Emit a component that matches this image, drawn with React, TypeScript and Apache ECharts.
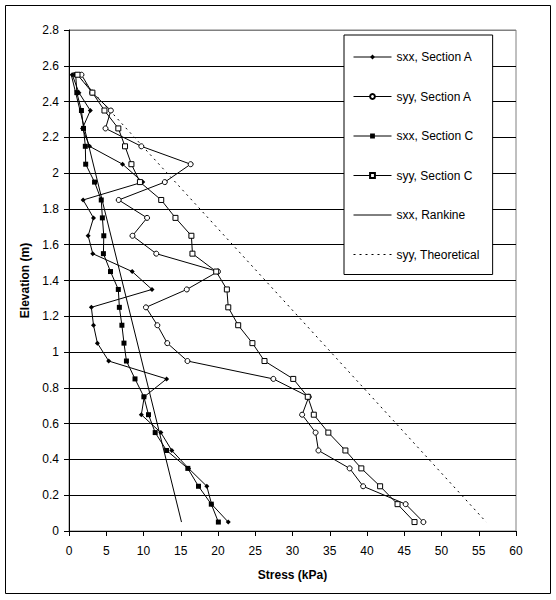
import React, { useEffect, useRef } from "react";
import * as echarts from "echarts";

const elevation = [2.55, 2.45, 2.35, 2.25, 2.15, 2.05, 1.95, 1.85, 1.75, 1.65, 1.55, 1.45, 1.35, 1.25, 1.15, 1.05, 0.95, 0.85, 0.75, 0.65, 0.55, 0.45, 0.35, 0.25, 0.15, 0.05];

const sxxSectionA = [0.43, 1.33, 2.86, 1.81, 2.76, 7.19, 9.9, 1.9, 3.29, 2.57, 3.19, 8.48, 11.14, 3.0, 3.29, 3.81, 5.33, 13.1, 10.1, 9.71, 12.33, 13.8, 16.05, 18.5, 19.14, 21.38];
const syySectionA = [1.67, 3.1, 5.62, 4.9, 9.71, 16.33, 12.86, 6.67, 10.48, 8.52, 11.71, 20.0, 15.81, 10.33, 11.86, 13.19, 15.9, 27.43, 32.19, 31.29, 33.1, 33.48, 37.67, 39.48, 45.19, 47.57];
const sxxSectionC = [0.9, 1.05, 1.67, 1.95, 2.19, 2.24, 3.43, 4.33, 4.48, 4.67, 4.62, 5.57, 6.62, 6.76, 7.1, 7.38, 7.71, 8.86, 10.05, 10.67, 11.57, 13.1, 15.95, 17.38, 19.1, 20.05];
const syySectionC = [1.14, 3.14, 4.76, 6.62, 7.52, 8.38, 9.52, 12.38, 14.29, 16.43, 16.57, 19.76, 21.19, 21.38, 22.71, 24.62, 26.24, 30.1, 32.05, 32.86, 34.81, 37.1, 39.24, 41.76, 44.1, 46.38];

const rankineElevation = [2.55, 0.05];
const sxxRankine = [0.3, 15.1];
const theoreticalElevation = [2.55, 0.05];
const syyTheoretical = [1.1, 56.0];

const seriesNames = ["sxx, Section A", "syy, Section A", "sxx, Section C", "syy, Section C", "sxx, Rankine", "syy, Theoretical"];

const yTickCount = 15;

const pairs = (xs: number[], ys: number[]) => xs.map((x, i) => [x, ys[i]]);

export default function App() {
  const ref = useRef<HTMLDivElement>(null);
  useEffect(() => {
    if (!ref.current) return;
    const chart = echarts.init(ref.current, undefined, { renderer: "svg" });
    const font = "'Liberation Sans', Arial, sans-serif";
    const splitColors: string[] = [];
    for (let i = 0; i < yTickCount - 1; i++) splitColors.push("#000000");
    splitColors.push("#808080");
    const base = {
      type: "line" as const,
      lineStyle: { color: "#000", width: 1 },
      itemStyle: { color: "#000", borderColor: "#000", borderWidth: 1 },
      color: "#000",
    };
    const hidden = { color: "transparent", borderColor: "transparent", borderWidth: 0, opacity: 0 };
    chart.setOption({
      animation: false,
      backgroundColor: "#fff",
      textStyle: { fontFamily: font },
      grid: {
        left: 69,
        top: 30,
        width: 447,
        height: 501,
        show: true,
        borderColor: "#808080",
        borderWidth: 1,
        backgroundColor: "transparent",
      },
      legend: {
        orient: "vertical",
        left: 344,
        top: 35,
        data: [
          { name: seriesNames[0] },
          { name: seriesNames[1] },
          { name: seriesNames[2] },
          { name: seriesNames[3] },
          { name: seriesNames[4], itemStyle: hidden },
          { name: seriesNames[5], itemStyle: hidden },
        ],
        itemWidth: 38,
        itemHeight: 6,
        itemGap: 27.5,
        padding: [16, 13, 14, 9],
        backgroundColor: "#fff",
        borderColor: "#000",
        borderWidth: 1,
        borderRadius: 0,
        lineStyle: { width: 1 },
        textStyle: { fontFamily: font, fontSize: 12, color: "#000" },
        inactiveColor: "#000",
      },
      xAxis: {
        type: "value",
        min: 0,
        max: 60,
        interval: 5,
        name: "Stress (kPa)",
        nameLocation: "middle",
        nameGap: 38,
        nameTextStyle: { fontFamily: font, fontSize: 12, fontWeight: "bold", color: "#000" },
        axisLine: { show: true, lineStyle: { color: "#000", width: 1 } },
        axisTick: { show: true, length: 5, inside: false, lineStyle: { color: "#000" } },
        axisLabel: { fontFamily: font, fontSize: 12, color: "#000", margin: 14 },
        splitLine: { show: false },
      },
      yAxis: {
        type: "value",
        min: 0,
        max: 2.8,
        interval: 0.2,
        name: "Elevation (m)",
        nameLocation: "middle",
        nameGap: 38,
        nameTextStyle: { fontFamily: font, fontSize: 12, fontWeight: "bold", color: "#000" },
        axisLine: { show: true, lineStyle: { color: "#000", width: 1 } },
        axisTick: { show: true, length: 5, inside: false, lineStyle: { color: "#000" } },
        axisLabel: { fontFamily: font, fontSize: 12, color: "#000", margin: 10 },
        splitLine: { show: true, lineStyle: { color: splitColors, width: 1 } },
      },
      graphic: [
        {
          type: "rect",
          shape: { x: 5.5, y: 5.5, width: 545, height: 588 },
          style: { fill: "none", stroke: "#000", lineWidth: 1 },
          silent: true,
        },
      ],
      series: [
        {
          ...base,
          name: seriesNames[0],
          data: pairs(sxxSectionA, elevation),
          symbol: "diamond",
          symbolSize: 5,
          itemStyle: { color: "#000", borderColor: "#000", borderWidth: 0 },
        },
        {
          ...base,
          name: seriesNames[1],
          data: pairs(syySectionA, elevation),
          symbol: "circle",
          symbolSize: 5,
          itemStyle: { color: "#fff", borderColor: "#000", borderWidth: 1 },
        },
        {
          ...base,
          name: seriesNames[2],
          data: pairs(sxxSectionC, elevation),
          symbol: "rect",
          symbolSize: 5,
          itemStyle: { color: "#000", borderColor: "#000", borderWidth: 0 },
        },
        {
          ...base,
          name: seriesNames[3],
          data: pairs(syySectionC, elevation),
          symbol: "rect",
          symbolSize: 5,
          itemStyle: { color: "#fff", borderColor: "#000", borderWidth: 1 },
        },
        {
          ...base,
          name: seriesNames[4],
          data: pairs(sxxRankine, rankineElevation),
          symbol: "none",
        },
        {
          ...base,
          name: seriesNames[5],
          data: pairs(syyTheoretical, theoreticalElevation),
          symbol: "none",
          lineStyle: { color: "#000", width: 1, type: [2, 4] },
        },
      ],
    });
    return () => chart.dispose();
  }, []);
  return (
    <div
      ref={ref}
      style={{ width: 556, height: 600, position: "fixed", left: 0, top: 0, background: "#fff" }}
    />
  );
}
